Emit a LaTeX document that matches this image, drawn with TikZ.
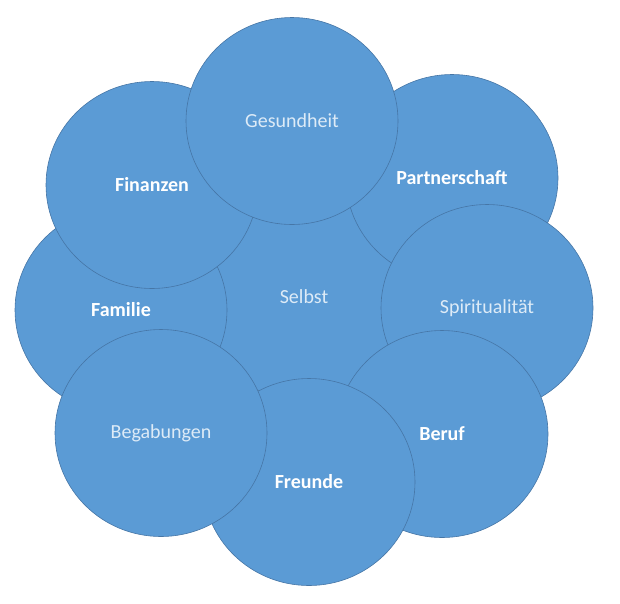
\documentclass[tikz,border=0pt]{standalone}
\usepackage{fontspec}
\setmainfont{Carlito}
\usetikzlibrary{shapes.geometric}
\definecolor{petalblue}{HTML}{5B9BD5}
\definecolor{rimblue}{HTML}{4676A6}
\definecolor{paleblue}{HTML}{DDEBF7}
\begin{document}
\begin{tikzpicture}[x=1pt,y=-1pt,
    petal/.style={ellipse, draw=rimblue, line width=0.6pt, fill=petalblue,
      minimum width=212pt, minimum height=207pt, inner sep=0pt,
      font=\fontsize{20}{24}\selectfont},
    strong/.style={text=white, font=\fontsize{20}{24}\selectfont\bfseries},
    soft/.style={text=paleblue}]
  \useasboundingbox (0,0) rectangle (620,603);
  % centre first, the ring on top in drawing order
  \node[petal, soft] (selbst) at (304,297) {Selbst};
  \foreach \n/\x/\y/\s/\t in {partner/452/178/strong/Partnerschaft,
      spirit/487/308/soft/Spiritualität,
      beruf/442/434/strong/Beruf,
      freunde/309/482/strong/Freunde,
      familie/121/310/strong/Familie,
      finanzen/152/185/strong/Finanzen,
      begabung/161/433/soft/Begabungen,
      gesund/292/121/soft/Gesundheit}
    \node[petal, \s] (\n) at (\x,\y) {\t};
\end{tikzpicture}
\end{document}
